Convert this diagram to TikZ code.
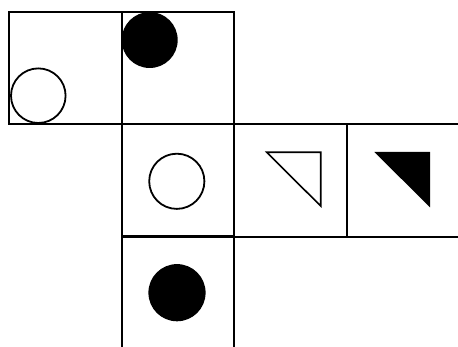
\documentclass[tikz,border=0pt]{standalone}
\begin{document}
\begin{tikzpicture}[x=1pt,y=-1pt,
  cell/.style={draw=black,line width=2pt,minimum size=112.5pt,inner sep=0pt,outer sep=0pt},
  ring/.style={draw=black,line width=1.8pt,fill=white},
  blob/.style={fill=black}]
\useasboundingbox (0,0) rectangle (458,347);
\begin{scope}
\clip (0,0) rectangle (458,347);
% cells
\node[cell] (c11) at (65.5,68) {};
\node[cell] (c12) at (178,68) {};
\node[cell] (c22) at (178,180.3) {};
\node[cell] (c23) at (290.5,180.3) {};
\node[cell] (c24) at (403,180.3) {};
\node[cell] (c32) at (178,292.5) {};
% shapes
\draw[ring] (38.3,95.7) circle (27.3);
\fill[blob] (149.7,40) circle (28);
\draw[ring] (176.8,181.3) circle (27.6);
\draw[line width=1.6pt,line join=miter] (266.7,152.3) -- (320.7,152.3) -- (320.7,206) -- cycle;
\fill[blob] (374.3,152) -- (430,152) -- (430,207.3) -- cycle;
\fill[blob] (177,292.7) circle (28.6);
\end{scope}
\end{tikzpicture}
\end{document}
